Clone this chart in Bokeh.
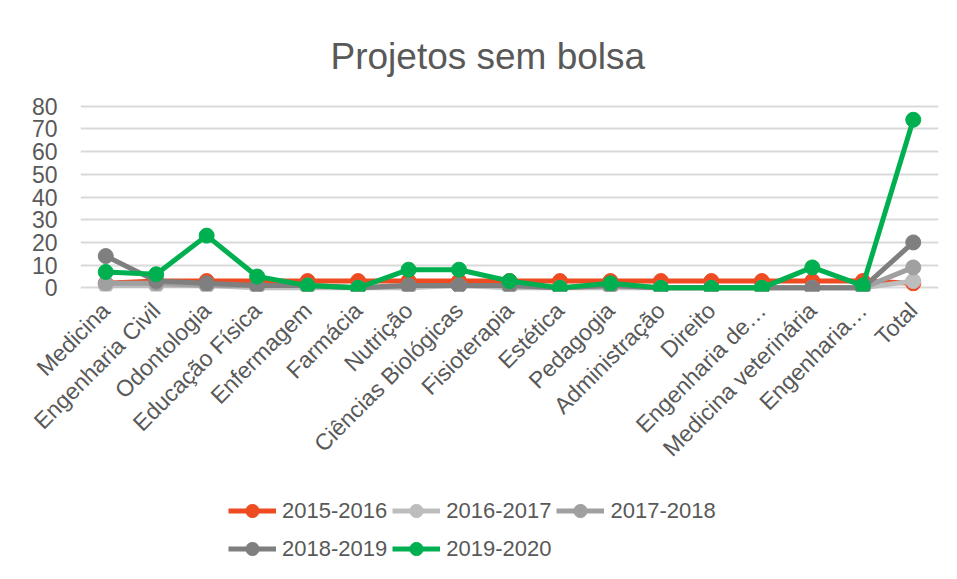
from bokeh.plotting import figure
from bokeh.models import Legend, LegendItem, FixedTicker, Range1d
from bokeh.layouts import column
from bokeh.embed import file_html
from bokeh.resources import INLINE
import math

categories = ["Medicina", "Engenharia Civil", "Odontologia", "Educação Física", "Enfermagem",
              "Farmácia", "Nutrição", "Ciências Biológicas", "Fisioterapia", "Estética",
              "Pedagogia", "Administração", "Direito", "Engenharia de…", "Medicina veterinária",
              "Engenharia…", "Total"]

s2015_2016 = [2, 3, 3, 3, 3, 3, 3, 3, 3, 3, 3, 3, 3, 3, 3, 3, 2]
s2016_2017 = [1, 1, 1, 0, 0, 0, 0, 1, 0, 0, 0, 0, 0, 0, 0, 0, 3]
s2017_2018 = [2, 2, 1, 1, 1, 0, 1, 1, 1, 0, 1, 0, 0, 0, 0, 0, 9]
s2018_2019 = [14, 3, 2, 1, 1, 0, 1, 1, 1, 0, 1, 0, 0, 0, 0, 0, 20]
s2019_2020 = [7, 6, 23, 5, 1, 0, 8, 8, 3, 0, 2, 0, 0, 0, 9, 1, 74]

series_names = ["2015-2016", "2016-2017", "2017-2018", "2018-2019", "2019-2020"]
series_values = [s2015_2016, s2016_2017, s2017_2018, s2018_2019, s2019_2020]
colors = ["#EE4B22", "#BDBDBD", "#A0A0A0", "#7F7F7F", "#00B050"]

y_ticks = [0, 10, 20, 30, 40, 50, 60, 70, 80]

FONT = "Liberation Sans"
TXT = "#595959"

p = figure(width=941, height=476, x_range=categories, y_range=Range1d(-1.6, 81.6),
           output_backend="svg", toolbar_location=None,
           min_border_left=80, min_border_right=3, min_border_top=102,
           min_border_bottom=185)

p.title.text = "Projetos sem bolsa"
p.title.text_font = FONT
p.title.text_font_size = "37px"
p.title.text_font_style = "normal"
p.title.text_color = TXT
p.title.align = "left"
p.title.offset = 250
p.title.standoff = 51

p.outline_line_color = None
p.xgrid.grid_line_color = None
p.ygrid.ticker = FixedTicker(ticks=y_ticks)
p.ygrid.grid_line_color = "#D9D9D9"
p.ygrid.grid_line_width = 2

p.yaxis.ticker = FixedTicker(ticks=y_ticks)
p.yaxis.axis_line_color = None
p.yaxis.major_tick_line_color = None
p.yaxis.minor_tick_line_color = None
p.yaxis.major_label_text_font = FONT
p.yaxis.major_label_text_font_size = "23px"
p.yaxis.major_label_text_color = TXT
p.yaxis.major_label_standoff = 17

p.xaxis.axis_line_color = None
p.xaxis.major_tick_line_color = None
p.xaxis.major_label_text_font = FONT
p.xaxis.major_label_text_font_size = "23px"
p.xaxis.major_label_text_color = TXT
p.xaxis.major_label_orientation = math.pi / 4
p.xaxis.major_label_standoff = 9

for name, vals, col in zip(series_names, series_values, colors):
    p.line(categories, vals, line_color=col, line_width=5)
    p.scatter(categories, vals, size=15, fill_color=col, line_color=col)

# legend figure below the chart (frames are aligned by the column layout)
pl = figure(width=941, height=99, x_range=Range1d(0, 1), y_range=Range1d(0, 1),
            output_backend="svg", toolbar_location=None, min_border=0)
pl.axis.visible = False
pl.grid.visible = False
pl.outline_line_color = None

items = []
for name, col in zip(series_names, colors):
    lr = pl.line([-5, -4], [-5, -5], line_color=col, line_width=5)
    sr = pl.scatter([-5], [-5], size=15, fill_color=col, line_color=col)
    items.append(LegendItem(label=name, renderers=[lr, sr]))

legend = Legend(items=items, orientation="horizontal", ncols=3,
                label_text_font=FONT, label_text_font_size="22px", label_text_color=TXT,
                glyph_width=48, glyph_height=33, label_standoff=6, spacing=5,
                border_line_color=None, background_fill_alpha=0,
                padding=0, margin=0, location=(148, 10))
pl.add_layout(legend, "center")

layout = column(p, pl, spacing=0)

open("out.html", "w").write(file_html(layout, INLINE))
